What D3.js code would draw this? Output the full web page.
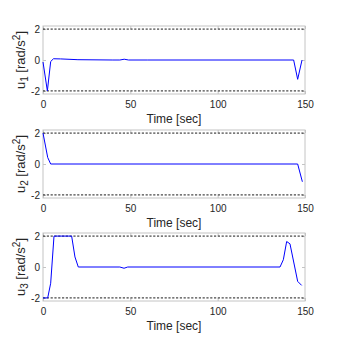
<!DOCTYPE html>
<html>
<head>
<meta charset="utf-8">
<script src="https://cdn.jsdelivr.net/npm/d3@7"></script>
<style>
  body { margin: 0; background: #fff; }
  svg { display: block; font-family: "Liberation Sans", Arial, sans-serif; }
</style>
</head>
<body>
<div id="chart"></div>
<script>
// control inputs
const u1Time = [0, 2.5, 4.4, 6, 10, 20, 40, 44, 46.5, 49, 60, 143.5, 145.8, 148.3];
const u1Vals = [-0.13, -2, -0.1, 0.08, 0.07, 0.02, 0.0, 0.0, 0.05, 0.0, 0.0, 0.0, -1.25, 0.0];

const u2Time = [0, 2.7, 4.4, 145.8, 148.5];
const u2Vals = [2, 0.42, 0, 0, -1.15];

const u3Time = [0, 2.7, 4.4, 6.3, 16.4, 18.3, 20.2, 44, 46.4, 48.5, 135.7, 137.6, 139.5, 141.4, 145.8, 148.1];
const u3Vals = [-2, -2, -1.05, 2, 2, 0.65, 0, 0, -0.08, 0, 0, 0.47, 1.65, 1.5, -0.93, -1.19];

const xTicks = [0, 50, 100, 150];
const yTicks = [-2, 0, 2];
const bounds = [-2, 2];
const subs = ["1", "2", "3"];

const W = 337, H = 346;
const left = 43, right = 305, plotH = 68;
const tops = [26, 130, 233];

const svg = d3.select("#chart").append("svg").attr("width", W).attr("height", H);

const x = d3.scaleLinear().domain([0, 150]).range([left, right]);

const series = [
  u1Time.map((t, i) => ({ t, v: u1Vals[i] })),
  u2Time.map((t, i) => ({ t, v: u2Vals[i] })),
  u3Time.map((t, i) => ({ t, v: u3Vals[i] }))
];

series.forEach((data, k) => {
  const top = tops[k];
  const y = d3.scaleLinear().domain([-2.2, 2.2]).range([top + plotH, top]);
  const g = svg.append("g");

  // box
  g.append("rect").attr("x", left).attr("y", top)
    .attr("width", right - left).attr("height", plotH)
    .attr("fill", "none").attr("stroke", "#c4c4c4").attr("stroke-width", 1);

  // axes, ticks inward
  g.append("g").attr("transform", `translate(0,${top + plotH})`)
    .call(d3.axisBottom(x).tickValues(xTicks).tickSize(-3).tickPadding(7).tickSizeOuter(0));
  g.append("g").attr("transform", `translate(0,${top})`)
    .call(d3.axisTop(x).tickValues(xTicks).tickSize(-3).tickFormat("").tickSizeOuter(0));
  g.append("g").attr("transform", `translate(${left},0)`)
    .call(d3.axisLeft(y).tickValues(yTicks).tickFormat(d => d < 0 ? "-" + Math.abs(d) : d).tickSize(-3).tickPadding(3).tickSizeOuter(0));
  g.append("g").attr("transform", `translate(${right},0)`)
    .call(d3.axisRight(y).tickValues(yTicks).tickSize(-3).tickFormat("").tickSizeOuter(0));
  g.selectAll(".domain").remove();
  g.selectAll(".tick line").attr("stroke", "#c4c4c4");
  g.selectAll(".tick text").attr("fill", "#262626").style("font-size", "10px")
    .style("font-family", "'Liberation Sans', Arial, sans-serif");

  // bounds
  bounds.forEach(b => {
    g.append("line").attr("x1", x(0)).attr("x2", x(150))
      .attr("y1", y(b)).attr("y2", y(b))
      .attr("stroke", "#000").attr("stroke-width", 0.9).attr("stroke-dasharray", "2.2,1.6");
  });

  // signal
  g.append("path").datum(data)
    .attr("fill", "none").attr("stroke", "#0000ff").attr("stroke-width", 1)
    .attr("d", d3.line().x(d => x(d.t)).y(d => y(d.v)));

  // x label
  g.append("text").attr("x", (left + right) / 2).attr("y", top + plotH + 29)
    .attr("text-anchor", "middle").attr("fill", "#262626").style("font-size", "12px")
    .text("Time [sec]");

  // y label
  const cy = top + plotH / 2;
  const lab = g.append("text").attr("transform", `translate(25,${cy}) rotate(-90)`)
    .attr("text-anchor", "middle").attr("fill", "#262626").style("font-size", "13px");
  lab.append("tspan").text("u");
  lab.append("tspan").attr("dy", 3).style("font-size", "10px").text(subs[k]);
  lab.append("tspan").attr("dy", -3).text(" [rad/s");
  lab.append("tspan").attr("dy", -5).style("font-size", "10px").text("2");
  lab.append("tspan").attr("dy", 5).text("]");
});
</script>
</body>
</html>
